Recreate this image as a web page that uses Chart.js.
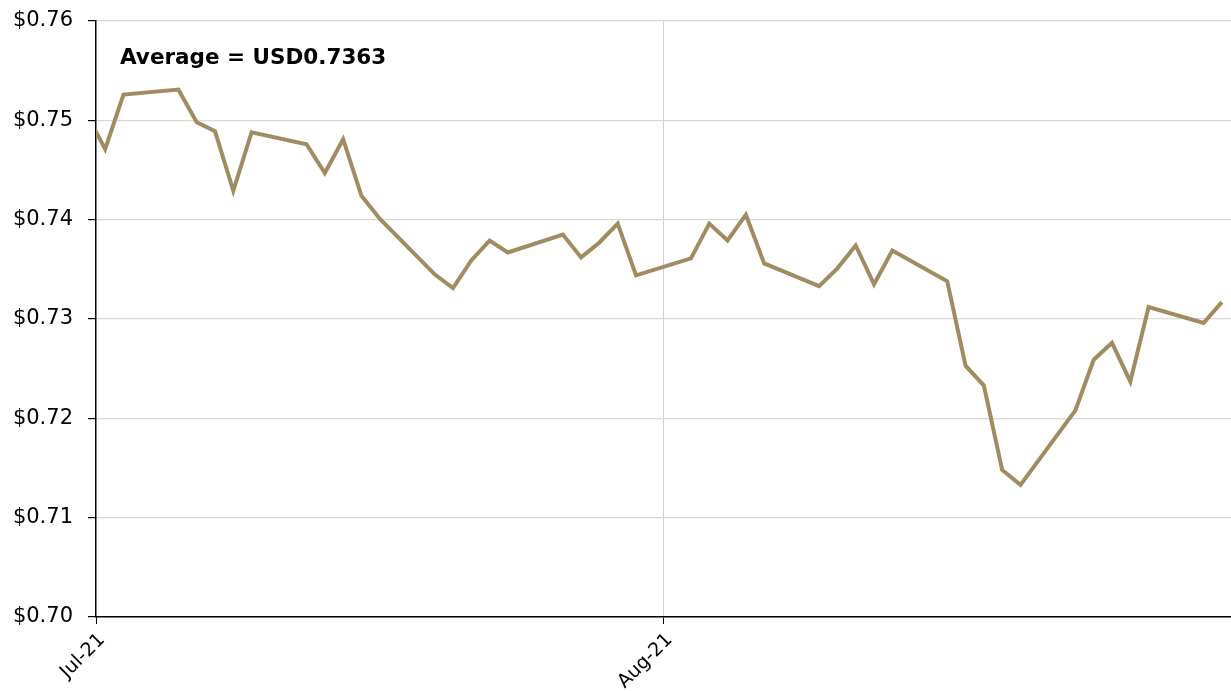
<!DOCTYPE html>
<html>
<head>
<meta charset="utf-8">
<script src="https://cdn.jsdelivr.net/npm/chart.js@4.4.0/dist/chart.umd.min.js"></script>
<style>
  html, body { margin: 0; padding: 0; background: #fff; }
  #wrap { width: 1231px; height: 691px; }
</style>
</head>
<body>
<div id="wrap"><canvas id="chart" width="1231" height="691"></canvas></div>
<script>
// AUD/USD daily close, Jul-Aug 2021
const dates = [
    '2021-06-30', '2021-07-01', '2021-07-02',
    '2021-07-05', '2021-07-06', '2021-07-07', '2021-07-08', '2021-07-09',
    '2021-07-12', '2021-07-13', '2021-07-14', '2021-07-15', '2021-07-16',
    '2021-07-19', '2021-07-20', '2021-07-21', '2021-07-22', '2021-07-23',
    '2021-07-26', '2021-07-27', '2021-07-28', '2021-07-29', '2021-07-30',
    '2021-08-02', '2021-08-03', '2021-08-04', '2021-08-05', '2021-08-06',
    '2021-08-09', '2021-08-10', '2021-08-11', '2021-08-12', '2021-08-13',
    '2021-08-16', '2021-08-17', '2021-08-18', '2021-08-19', '2021-08-20',
    '2021-08-23', '2021-08-24', '2021-08-25', '2021-08-26', '2021-08-27',
    '2021-08-30', '2021-08-31'
];
const rates = [
    0.7506, 0.7471, 0.7526,
    0.7531, 0.7498, 0.7489, 0.7429, 0.7488,
    0.7476, 0.7447, 0.7481, 0.7424, 0.7401,
    0.7345, 0.7331, 0.7359, 0.7379, 0.7367,
    0.7385, 0.7362, 0.7377, 0.7396, 0.7344,
    0.7361, 0.7396, 0.7379, 0.7405, 0.7356,
    0.7333, 0.7351, 0.7374, 0.7335, 0.7369,
    0.7338, 0.7253, 0.7233, 0.7148, 0.7133,
    0.7208, 0.7259, 0.7276, 0.7237, 0.7312,
    0.7296, 0.7317
];
const monthTicks = [0, 31];
const monthLabels = ['Jul-21', 'Aug-21'];
const yTicks = [0.70, 0.71, 0.72, 0.73, 0.74, 0.75, 0.76];
const averageText = 'Average = USD0.7363';

const FONT = '"DejaVu Sans", "Liberation Sans", Arial, sans-serif';
const DAY = 86400000;
const start = Date.UTC(2021, 6, 1);
// each daily point sits in the middle of its day
const points = dates.map((d, i) => {
    const [y, m, dd] = d.split('-').map(Number);
    return { x: (Date.UTC(y, m - 1, dd) - start) / DAY + 0.5, y: rates[i] };
});

const averageLabel = {
    id: 'averageLabel',
    afterDraw(chart) {
        const { ctx, chartArea } = chart;
        ctx.save();
        ctx.font = 'bold 21.5px ' + FONT;
        ctx.fillStyle = '#000';
        ctx.textBaseline = 'alphabetic';
        ctx.fillText(averageText, chartArea.left + 24, chartArea.top + 43);
        ctx.restore();
    }
};

new Chart(document.getElementById('chart').getContext('2d'), {
    type: 'line',
    data: {
        datasets: [{
            data: points,
            borderColor: '#a08c60',
            borderWidth: 4,
            pointRadius: 0,
            tension: 0,
            fill: false
        }]
    },
    options: {
        responsive: false,
        animation: false,
        layout: { padding: { top: 21, right: 0, left: 0, bottom: 0 } },
        plugins: { legend: { display: false }, tooltip: { enabled: false } },
        scales: {
            x: {
                type: 'linear',
                min: 0,
                max: 62,
                afterBuildTicks: axis => { axis.ticks = monthTicks.map(v => ({ value: v })); },
                afterFit: axis => { axis.height = 74; axis.paddingLeft = 0; axis.paddingRight = 0; },
                ticks: {
                    autoSkip: false,
                    minRotation: 45,
                    maxRotation: 45,
                    padding: 5,
                    labelOffset: 6,
                    color: '#000',
                    font: { family: FONT, size: 19 },
                    callback: v => monthLabels[monthTicks.indexOf(v)]
                },
                grid: {
                    color: ctx => ctx.tick && ctx.tick.value === 0 ? 'rgba(0,0,0,0)' : '#d0d0d0',
                    tickColor: '#000',
                    tickLength: 7,
                    lineWidth: 1
                },
                border: { color: '#000', width: 1.5 }
            },
            y: {
                min: 0.70,
                max: 0.76,
                afterBuildTicks: axis => { axis.ticks = yTicks.map(v => ({ value: v })); },
                afterFit: axis => { axis.width = 96; axis.paddingTop = 0; axis.paddingBottom = 0; },
                ticks: {
                    padding: 15,
                    color: '#000',
                    font: { family: FONT, size: 21 },
                    callback: v => '$' + v.toFixed(2)
                },
                grid: {
                    color: '#d9d9d9',
                    tickColor: '#000',
                    tickLength: 8,
                    lineWidth: 1.2
                },
                border: { color: '#000', width: 1.5 }
            }
        }
    },
    plugins: [averageLabel]
});
</script>
</body>
</html>
